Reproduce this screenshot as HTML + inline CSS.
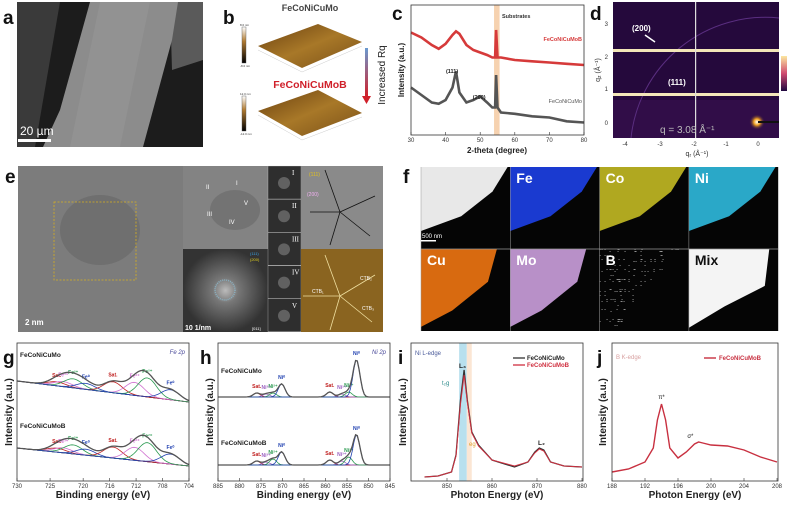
<!DOCTYPE html>
<html><head><meta charset="utf-8"><style>
html,body{margin:0;padding:0;background:#fff;}
svg{display:block;font-family:"Liberation Sans",Arial,sans-serif;}
.pl{font-size:19px;font-weight:bold;fill:#111;}
.tk{font-size:6px;fill:#333;}
.at{font-size:10px;font-weight:bold;fill:#222;}
</style></head><body>
<svg id="fig" width="791" height="505" viewBox="0 0 791 505" xmlns="http://www.w3.org/2000/svg">
<defs>
<linearGradient id="cb" x1="0" y1="0" x2="0" y2="1"><stop offset="0" stop-color="#fff"/><stop offset="0.4" stop-color="#b07a30"/><stop offset="1" stop-color="#000"/></linearGradient>
<linearGradient id="rq" x1="0" y1="0" x2="0" y2="1"><stop offset="0" stop-color="#6a9ad0"/><stop offset="1" stop-color="#d0202a"/></linearGradient>
<linearGradient id="surf" x1="0" y1="0" x2="1" y2="1"><stop offset="0" stop-color="#6a4010"/><stop offset="0.5" stop-color="#a87828"/><stop offset="1" stop-color="#7a5018"/></linearGradient>
<linearGradient id="dcb" x1="0" y1="0" x2="0" y2="1"><stop offset="0" stop-color="#fbe8a0"/><stop offset="0.5" stop-color="#d04a70"/><stop offset="1" stop-color="#200840"/></linearGradient>
<radialGradient id="fft" cx="0.5" cy="0.5" r="0.5"><stop offset="0" stop-color="#bbb"/><stop offset="0.3" stop-color="#777"/><stop offset="1" stop-color="#333"/></radialGradient>
<radialGradient id="spot" cx="0.5" cy="0.5" r="0.5"><stop offset="0" stop-color="#fff"/><stop offset="0.4" stop-color="#f0a020"/><stop offset="1" stop-color="#2a0d40" stop-opacity="0"/></radialGradient>
</defs>

<!-- panel a -->
<text class="pl" x="3" y="24">a</text>
<g>
<rect x="17" y="2" width="186" height="145" fill="#1c1c1c"/>
<polygon points="17,2 60,2 35,147 17,147" fill="#3a3a3a"/>
<polygon points="170,2 203,2 203,60 172,70" fill="#5a5a5a"/>
<polygon points="90,2 178,2 172,40 143,147 43,147 60,110" fill="#8c8c8c"/>
<polygon points="100,2 150,2 120,147 70,147" fill="#969696" opacity="0.6"/>
<rect x="18" y="139" width="33" height="3" fill="#fff"/>
<text x="20" y="135" font-size="12" fill="#fff">20 µm</text>
</g>

<!-- panel b -->
<text class="pl" x="223" y="24">b</text>
<text x="310" y="11" font-size="9" font-weight="bold" fill="#444" text-anchor="middle">FeCoNiCuMo</text>
<text x="310" y="88" font-size="10.5" font-weight="bold" fill="#d0202a" text-anchor="middle">FeCoNiCuMoB</text>
<rect x="242" y="27" width="4" height="36" fill="url(#cb)" stroke="#555" stroke-width="0.4"/>
<rect x="242" y="96" width="4" height="35" fill="url(#cb)" stroke="#555" stroke-width="0.4"/>
<text x="240" y="26" font-size="3" fill="#333">8.0 nm</text><text x="240" y="67" font-size="3" fill="#333">-8.0 nm</text>
<text x="240" y="95" font-size="3" fill="#333">12.0 nm</text><text x="240" y="135" font-size="3" fill="#333">-12.0 nm</text>
<polygon points="258,46 318,24 362,42 302,68" fill="url(#surf)"/>
<polygon points="258,111 318,90 362,113 302,136" fill="url(#surf)"/>
<polyline points="258,50 302,72 362,46" fill="none" stroke="#ccc" stroke-width="0.5"/>
<polyline points="258,115 302,140 362,117" fill="none" stroke="#ccc" stroke-width="0.5"/>
<rect x="365" y="48" width="3" height="48" fill="url(#rq)"/>
<polygon points="362,96 371,96 366.5,104" fill="#d0202a"/>
<text transform="translate(385,75) rotate(-90)" font-size="10" fill="#222" text-anchor="middle">Increased Rq</text>

<!-- panel c -->
<text class="pl" x="392" y="20">c</text>
<g id="chartC"></g>

<!-- panel d -->
<text class="pl" x="590" y="20">d</text>
<g>
<rect x="613" y="2" width="166" height="136" fill="#25093c"/>
<rect x="613" y="100" width="166" height="38" fill="#3a1050" opacity="0.6"/>
<path d="M 631 138 A 135 135 0 0 1 779 18" fill="none" stroke="#5a2e80" stroke-width="1"/>
<circle cx="757" cy="122" r="8" fill="url(#spot)"/>
<rect x="758" y="121" width="21" height="2" fill="#111"/>
<rect x="613" y="49" width="166" height="3" fill="#f3e6b8"/>
<rect x="613" y="93" width="166" height="3" fill="#f3e6b8"/>
<rect x="695" y="2" width="1.2" height="136" fill="#ddd"/>
<text x="632" y="31" font-size="8" font-weight="bold" fill="#fff">(200)</text>
<line x1="645" y1="35" x2="655" y2="42" stroke="#fff" stroke-width="1.5"/>
<text x="668" y="85" font-size="8" font-weight="bold" fill="#fff">(111)</text>
<text x="660" y="133" font-size="10" fill="#bbb">q = 3.08 Å⁻¹</text>
</g>
<rect x="781" y="56" width="6" height="35" fill="url(#dcb)"/>
<g class="tk" font-size="5.5">
<text x="608" y="26" text-anchor="end">3</text><text x="608" y="59" text-anchor="end">2</text><text x="608" y="91" text-anchor="end">1</text><text x="608" y="125" text-anchor="end">0</text>
<text x="625" y="146" text-anchor="middle">-4</text><text x="660" y="146" text-anchor="middle">-3</text><text x="694" y="146" text-anchor="middle">-2</text><text x="726" y="146" text-anchor="middle">-1</text><text x="758" y="146" text-anchor="middle">0</text>
</g>
<text x="697" y="156" font-size="7" fill="#333" text-anchor="middle">q<tspan font-size="5" dy="1">r</tspan><tspan dy="-1"> (Å⁻¹)</tspan></text>
<text transform="translate(600,70) rotate(-90)" font-size="7" fill="#333" text-anchor="middle">q<tspan font-size="5" dy="1">z</tspan><tspan dy="-1"> (Å⁻¹)</tspan></text>

<!-- panel e -->
<text class="pl" x="5" y="183">e</text>
<g>
<rect x="18" y="166" width="166" height="166" fill="#7c7c7c"/>
<ellipse cx="100" cy="230" rx="40" ry="35" fill="#6a6a6a" opacity="0.7"/>
<rect x="54" y="202" width="82" height="78" fill="none" stroke="#d8b020" stroke-width="0.8" stroke-dasharray="2,1.5"/>
<text x="25" y="325" font-size="8" font-weight="bold" fill="#fff">2 nm</text>
<rect x="183" y="166" width="85" height="83" fill="#838383"/>
<ellipse cx="235" cy="210" rx="25" ry="20" fill="#6c6c6c" opacity="0.7"/>
<text x="206" y="189" font-size="6" fill="#fff">II</text><text x="236" y="185" font-size="6" fill="#fff">I</text>
<text x="244" y="205" font-size="6" fill="#fff">V</text><text x="207" y="216" font-size="6" fill="#fff">III</text><text x="229" y="224" font-size="6" fill="#fff">IV</text>
<rect x="183" y="249" width="85" height="83" fill="url(#fft)"/>
<circle cx="225" cy="290" r="10" fill="none" stroke="#8ab0c0" stroke-width="1.5" stroke-dasharray="1,1"/>
<text x="250" y="255" font-size="4" fill="#3aa0e0">(111)</text><text x="250" y="261" font-size="4" fill="#e0d020">(200)</text>
<text x="185" y="330" font-size="7" font-weight="bold" fill="#fff">10 1/nm</text>
<text x="252" y="330" font-size="4" fill="#fff">[011]</text>
<g id="strips"></g>
<rect x="301" y="166" width="82" height="83" fill="#8a8a8a"/>
<g stroke="#111" stroke-width="0.8"><line x1="340" y1="212" x2="325" y2="170"/><line x1="340" y1="212" x2="375" y2="196"/><line x1="340" y1="212" x2="310" y2="212"/><line x1="340" y1="212" x2="330" y2="245"/><line x1="340" y1="212" x2="370" y2="236"/></g>
<text x="309" y="176" font-size="5" fill="#e0c020">(111)</text><text x="307" y="196" font-size="5" fill="#f0b0f0">(200)</text>
<rect x="301" y="249" width="82" height="83" fill="#8a6420"/>
<g stroke="#f0e0a0" stroke-width="0.8"><line x1="340" y1="296" x2="325" y2="255"/><line x1="340" y1="296" x2="375" y2="275"/><line x1="340" y1="296" x2="303" y2="296"/><line x1="340" y1="296" x2="330" y2="330"/><line x1="340" y1="296" x2="372" y2="322"/></g>
<text x="312" y="293" font-size="5" fill="#fff">CTB₁</text><text x="360" y="280" font-size="5" fill="#fff">CTB₂</text><text x="362" y="310" font-size="5" fill="#fff">CTB₃</text>
</g>

<!-- panel f -->
<text class="pl" x="403" y="183">f</text>
<g id="eds"></g>

<!-- panels g,h,i,j -->
<text class="pl" x="3" y="364">g</text>
<text class="pl" x="200" y="364">h</text>
<text class="pl" x="398" y="364">i</text>
<text class="pl" x="597" y="364">j</text>
<g id="chartG"></g>
<g id="chartH"></g>
<g id="chartI"></g>
<g id="chartJ"></g>
</svg>
<script>
// ---------- data ----------
const xrdX = [30,33,36,38,40,42,43,44,46,48,50,52,53.5,54.3,54.6,55,56,60,65,70,75,80];
const xrdRed = [82,78,72,69,73,80,83,81,72,68,66,64,62,62,84,62,62,60,59,58,57,56];
const xrdGray = [38,32,26,25,28,38,51,34,26,28,31,26,22,22,48,22,18,17,15,14,11,10];
const xrdTicks = [30,40,50,60,70,80];

const feCenters = [724,723,721.5,719.6,715.5,712.2,710.3,706.8];
const feLabels = ["Sat.","Fe³⁺","Fe²⁺","Fe⁰","Sat.","Fe³⁺","Fe²⁺","Fe⁰"];
const feHeightsTop = [4,5,9,6,11,13,19,10];
const feHeightsBot = [4,5,9,6,11,13,19,10];
const feTicks = [730,725,720,716,712,708,704];

const niCenters = [876,873.8,872.2,870.2,859,856.2,854.6,852.8];
const niLabels = ["Sat.","Ni³⁺","Ni²⁺","Ni⁰","Sat.","Ni³⁺","Ni²⁺","Ni⁰"];
const niHeightsTop = [4,3,4,13,5,3,5,37];
const niHeightsBot = [4,3,6,13,5,4,8,30];
const niTicks = [885,880,875,870,865,860,855,850,845];

const nlX = [845,848,851,852,853,853.8,854.5,855.5,857,860,865,868,869.5,870.5,871.5,873,876,880];
const nlMo = [3,4,8,25,80,110,80,48,35,20,13,18,28,32,30,18,14,13];
const nlMoB = [3,4,8,24,76,105,78,47,34,20,14,18,27,31,29,18,14,13];
const nlTicks = [850,860,870,880];

const bkX = [188,190,192,193,193.5,194,194.5,195,196,197,198,198.5,199,200,202,204,206,208];
const bkY = [10,13,20,34,62,78,62,34,24,30,38,40,39,37,36,32,25,20];
const bkTicks = [188,192,196,200,204,208];

const edsNames = ["","Fe","Co","Ni","Cu","Mo","B","Mix"];
const edsColors = ["#e8e8e8","#1a3ad0","#b0a820","#2aa8c8","#d86a10","#b890c8","#000","#f4f4f4"];

// ---------- helpers ----------
const NS="http://www.w3.org/2000/svg";
function mk(parent,tag,attrs){const e=document.createElementNS(NS,tag);for(const k in attrs)e.setAttribute(k,attrs[k]);parent.appendChild(e);return e;}
function txt(parent,x,y,s,attrs){const e=mk(parent,"text",Object.assign({x:x,y:y},attrs||{}));e.textContent=s;return e;}
function lin(d0,d1,r0,r1){return v=>r0+(v-d0)*(r1-r0)/(d1-d0);}
function frame(g,x0,y0,x1,y1){mk(g,"rect",{x:x0,y:y0,width:x1-x0,height:y1-y0,fill:"none",stroke:"#333","stroke-width":0.8});}
function xticks(g,ticks,sx,y1){ticks.forEach(t=>{mk(g,"line",{x1:sx(t),x2:sx(t),y1:y1,y2:y1-3,stroke:"#333","stroke-width":0.6});const e=txt(g,sx(t),y1+7,String(t),{"text-anchor":"middle","class":"tk"});});}
function ytitle(g,x,y,s,fs){const e=txt(g,0,0,s,{transform:`translate(${x},${y}) rotate(-90)`,"text-anchor":"middle","font-size":fs,"font-weight":"bold",fill:"#222"});}
function xtitle(g,x,y,s,fs){const e=txt(g,x,y,s,{"text-anchor":"middle","font-size":fs,"font-weight":"bold",fill:"#222"});}
function pts(xs,ys,sx,sy){return xs.map((x,i)=>sx(x).toFixed(1)+","+sy(ys[i]).toFixed(1)).join(" ");}

// ---------- chart c ----------
(function(){const g=document.getElementById("chartC");
const sx=lin(30,80,411,584), sy=lin(0,100,135,10);
mk(g,"rect",{x:sx(54),y:5,width:sx(55.6)-sx(54),height:130,fill:"#f6d2b0"});
txt(g,sx(56.3),18,"Substrates",{"font-size":5.5,"font-weight":"bold",fill:"#333"});
const r=mk(g,"polyline",{points:pts(xrdX,xrdRed,sx,sy),fill:"none",stroke:"#d63a3a","stroke-width":2.6});

const k=mk(g,"polyline",{points:pts(xrdX,xrdGray,sx,sy),fill:"none",stroke:"#555","stroke-width":2.6});

txt(g,582,41,"FeCoNiCuMoB",{"text-anchor":"end","font-size":5.5,"font-weight":"bold",fill:"#d63a3a"});
txt(g,582,103,"FeCoNiCuMo",{"text-anchor":"end","font-size":5.5,fill:"#555"});
txt(g,sx(43)-10,73,"(111)",{"font-size":5.5,"font-weight":"bold",fill:"#222"});
txt(g,sx(49)-4,99,"(200)",{"font-size":5.5,"font-weight":"bold",fill:"#222"});
frame(g,411,5,584,135);xticks(g,xrdTicks,sx,135);
xtitle(g,497,153,"2-theta (degree)",8);ytitle(g,404,70,"Intensity (a.u.)",8);})();

// ---------- strips and EDS ----------
(function(){const g=document.getElementById("strips");const labs=["I","II","III","IV","V"];
labs.forEach((l,i)=>{const y=166+i*33.2;mk(g,"rect",{x:268,y:y,width:33,height:33,fill:"#2e2e2e",stroke:"#ddd","stroke-width":0.3});
mk(g,"circle",{cx:284,cy:y+17,r:6,fill:"#777",opacity:0.7});txt(g,292,y+9,l,{"font-size":7,fill:"#fff","font-family":"Liberation Serif"});});
const e=document.getElementById("eds");const w=89.3,h=82;
edsNames.forEach((n,i)=>{const c=i%4,r=Math.floor(i/4);const x=421+c*w,y=167+r*h;
mk(e,"rect",{x:x,y:y,width:w,height:h,fill:"#050505"});
let poly;
if(r===0) poly=[[x,y],[x+w*0.97,y],[x+w*0.8,y+h*0.3],[x+w*0.45,y+h*0.6],[x,y+h*0.78]];
else if(i===7) poly=[[x,y],[x+w*0.9,y],[x+w*0.85,y+h*0.45],[x+w*0.4,y+h*0.7],[x,y+h*0.96]];
else poly=[[x,y],[x+w*0.85,y],[x+w*0.75,y+h*0.4],[x+w*0.35,y+h*0.75],[x,y+h*0.95]];
if(i!==6){const p=mk(e,"polygon",{points:poly.map(q=>q.join(",")).join(" "),fill:edsColors[i]});
}
else{for(let a=0;a<260;a++){const px=x+((a*a*7+a*13)%89),py=y+((a*a*11+a*29)%80);if(px-x<w*0.9-(py-y)*0.8)mk(e,"rect",{x:px,y:py,width:0.9,height:0.9,fill:"#aaa"});}}
if(n){const t=txt(e,x+6,y+16,n,{"font-size":14,"font-weight":"bold",fill:i===7?"#111":"#fff"});}
mk(e,"line",{x1:x,y1:y,x2:x,y2:y+h,stroke:"#999","stroke-width":0.5});});
mk(e,"line",{x1:421,y1:249,x2:778,y2:249,stroke:"#999","stroke-width":0.8});
mk(e,"rect",{x:421,y:240,width:15,height:1.5,fill:"#fff"});txt(e,422,238,"500 nm",{"font-size":6,fill:"#fff"});})();

// ---------- XPS ----------
function xps(id,x0,x1,dom0,dom1,centers,labels,hTop,hBot,ticks,baseTop,baseBot,title,sig,colors){
const g=document.getElementById(id);const sx=lin(dom0,dom1,x0,x1);
[[hTop,baseTop],[hBot,baseBot]].forEach(([H,base],si)=>{
const bg=x=>base[0]+(base[1]-base[0])*(x-dom0)/(dom1-dom0);
const N=100,xs=[];for(let i=0;i<=N;i++)xs.push(dom0+(dom1-dom0)*i/N);
const gs=(x,c,hh)=>hh*Math.exp(-((x-c)*(x-c))/(2*sig*sig));
mk(g,"polyline",{points:xs.map(x=>sx(x).toFixed(1)+","+bg(x).toFixed(1)).join(" "),fill:"none",stroke:"#e0a030","stroke-width":0.8});
centers.forEach((c,k)=>{const p=mk(g,"polyline",{points:xs.map(x=>sx(x).toFixed(1)+","+(bg(x)-gs(x,c,H[k])).toFixed(1)).join(" "),fill:"none",stroke:colors[k],"stroke-width":0.8});

txt(g,sx(c),bg(c)-H[k]-5,labels[k],{"text-anchor":"middle","font-size":5,"font-weight":"bold",fill:colors[k]});});
const env=mk(g,"polyline",{points:xs.map(x=>{let s=0;centers.forEach((c,k)=>s+=gs(x,c,H[k]));return sx(x).toFixed(1)+","+(bg(x)-s).toFixed(1);}).join(" "),fill:"none",stroke:"#555","stroke-width":1.3});

txt(g,x0+3,base[0]-(si?20:24),si?"FeCoNiCuMoB":"FeCoNiCuMo",{"font-size":6.5,"font-weight":"bold",fill:"#222"});});
frame(g,x0,343,x1,481);xticks(g,ticks,sx,481);
txt(g,x1-4,354,title,{"text-anchor":"end","font-size":6,"font-style":"italic",fill:"#4a4a9a"});
xtitle(g,(x0+x1)/2,498,"Binding energy (eV)",10);ytitle(g,x0-5,412,"Intensity (a.u.)",10);}
xps("chartG",17,189,730,704,feCenters,feLabels,feHeightsTop,feHeightsBot,feTicks,[381,402],[448,466],"Fe 2p",1.4,
["#c02020","#d070d0","#2a9a50","#2040b0","#c02020","#d070d0","#2a9a50","#2040b0"]);
xps("chartH",218,390,885,845,niCenters,niLabels,niHeightsTop,niHeightsBot,niTicks,[397,397],[465,465],"Ni 2p",0.8,
["#c02020","#9a60c0","#2a9a50","#2040b0","#c02020","#9a60c0","#2a9a50","#2040b0"]);

// ---------- chart i ----------
(function(){const g=document.getElementById("chartI");const sx=lin(870,880,537,582),sy=lin(0,100,480,380);
mk(g,"rect",{x:sx(852.7),y:343,width:sx(854.4)-sx(852.7),height:138,fill:"#b8e0ee"});
mk(g,"rect",{x:sx(854.4),y:343,width:sx(855.5)-sx(854.4),height:138,fill:"#fbe6d4"});
const a=mk(g,"polyline",{points:pts(nlX,nlMo,sx,sy),fill:"none",stroke:"#333","stroke-width":1.3});

const b=mk(g,"polyline",{points:pts(nlX,nlMoB,sx,sy),fill:"none",stroke:"#d03040","stroke-width":1});

frame(g,411,343,583,481);xticks(g,nlTicks,sx,481);
txt(g,415,355,"Ni L-edge",{"font-size":6,fill:"#4a5a9a"});
txt(g,459,368,"L₃",{"font-size":6.5,"font-weight":"bold",fill:"#222"});
txt(g,442,385,"t₂g",{"font-size":6,fill:"#2a8a8a"});
txt(g,469,446,"eg",{"font-size":6,fill:"#e0a030"});
txt(g,538,445,"L₂",{"font-size":6.5,"font-weight":"bold",fill:"#222"});
mk(g,"line",{x1:513,x2:525,y1:358,y2:358,stroke:"#333","stroke-width":1.3});
mk(g,"line",{x1:513,x2:525,y1:365,y2:365,stroke:"#d03040","stroke-width":1.3});
txt(g,527,360,"FeCoNiCuMo",{"font-size":6,"font-weight":"bold",fill:"#222"});
txt(g,527,367,"FeCoNiCuMoB",{"font-size":6,"font-weight":"bold",fill:"#d03040"});
xtitle(g,497,498,"Photon Energy (eV)",10);ytitle(g,406,412,"Intensity (a.u.)",10);})();

// ---------- chart j ----------
(function(){const g=document.getElementById("chartJ");const sx=lin(188,208,612,777),sy=lin(0,100,482,382);
const a=mk(g,"polyline",{points:pts(bkX,bkY,sx,sy),fill:"none",stroke:"#c83040","stroke-width":1.4});

frame(g,612,343,778,481);xticks(g,bkTicks,sx,481);
txt(g,616,359,"B K-edge",{"font-size":6,fill:"#d8a0a0"});
mk(g,"line",{x1:704,x2:716,y1:358,y2:358,stroke:"#c83040","stroke-width":1.4});
txt(g,719,360,"FeCoNiCuMoB",{"font-size":6,"font-weight":"bold",fill:"#c83040"});
txt(g,sx(194),399,"π*",{"text-anchor":"middle","font-size":6,fill:"#222"});
txt(g,sx(197.5),438,"σ*",{"text-anchor":"middle","font-size":6,fill:"#222"});
xtitle(g,695,498,"Photon Energy (eV)",10);ytitle(g,606,412,"Intensity (a.u.)",10);})();
</script>
</body></html>
